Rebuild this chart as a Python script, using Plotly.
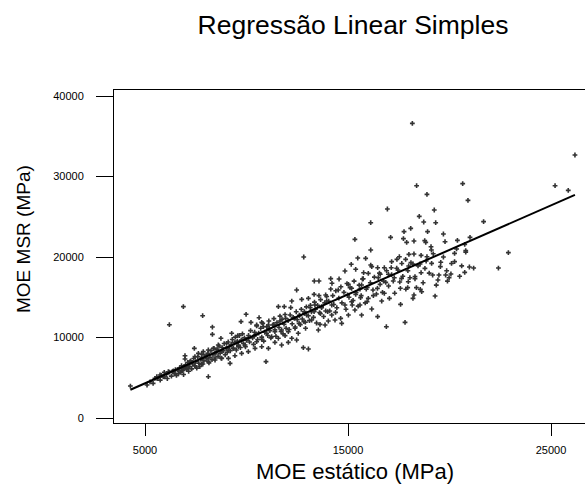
import numpy as np
import plotly.graph_objects as go

# ---- Data (MPa) ----
moe_estatico = [
    18170, 26180, 18380, 20650, 25200, 25850, 18890, 20910, 16940, 19250,
    18510, 16120, 18730, 19320, 21680, 18090, 17760, 18920, 19700, 17100,
    15340, 17730, 18250, 17890, 18780, 18830, 19780, 20390, 20750, 21010,
    19090, 19110, 16120, 20800, 22900, 12820, 15480, 15870, 17150, 17530,
    17410, 17840, 18000, 18250, 18890, 20250, 20250, 22410, 20980, 21190,
    20750, 15160, 16120, 16460, 16790, 16170, 17130, 17460, 17990, 18200,
    18550, 18790, 19120, 19570, 19860, 20070, 19430, 19810, 19980, 19480,
    19170, 14850, 15380, 15770, 15710, 16000, 16590, 16490, 16990, 17280,
    17640, 18050, 18300, 18600, 17970, 13340, 13570, 14150, 14560, 14210,
    15020, 15180, 15670, 15590, 15950, 16580, 16860, 17230, 17580, 17940,
    18370, 18560, 18630, 18250, 18200, 19290, 17590, 17040, 16660, 16790,
    16400, 16230, 16000, 15620, 15380, 14980, 15180, 14850, 15210, 15590,
    15940, 16170, 16460, 16890, 17810, 14520, 14150, 13900, 13570, 13330,
    13050, 12720, 12470, 12230, 13950, 14200, 13700, 13370, 13140, 12850,
    12620, 12960, 13330, 13640, 14000, 14390, 14640, 14690, 14360, 14030,
    13870, 13620, 14200, 15020, 15340, 15670, 11570, 11860, 12180, 6890,
    7840, 6200, 8320, 8320, 9980, 10620, 9730, 10220, 10500, 10750,
    11080, 11350, 11650, 11930, 12360, 12590, 12830, 13210, 13540, 12910,
    12390, 12060, 11730, 11400, 11120, 10830, 9270, 9570, 9760, 10090,
    10390, 10500, 10750, 10990, 11240, 11570, 11900, 12230, 12550, 12470,
    12060, 11730, 11400, 11080, 10750, 10420, 12800, 13050, 10960, 8740,
    9020, 8610, 8370, 8120, 7870, 7630, 7430, 7460, 6970, 6970,
    7220, 7790, 8040, 8450, 8780, 9110, 9350, 9600, 9930, 10090,
    9760, 9430, 9110, 8780, 8450, 8120, 7790, 7460, 7130, 6890,
    6640, 6400, 6150, 5950, 5740, 5580, 5490, 5900, 6480, 6810,
    7050, 8120, 9190, 4280,
    5100, 5250, 5400, 5600, 5750, 5800, 5950, 6050, 6100, 6200, 6300, 6350, 6450, 6500, 6550,
    6600, 6650, 6700, 6750, 6800, 6850, 6900, 6950, 7000, 7050, 7100, 7150, 7200, 7250,
    7300, 7350, 7400, 7450, 7500, 7550, 7600, 7650, 7700, 7750, 7800, 7850, 7900, 7950,
    8050, 8100, 8150, 8200, 8250, 8300, 8350, 8400, 8450, 8500, 8550, 8600, 8650, 8700,
    8750, 8800, 8850, 8900, 8950, 9000, 9050, 9100, 9150, 9200, 9250, 9300, 9350, 9400,
    9450, 9500, 9550, 9600, 9650, 9700, 9750, 9800, 9850, 9900, 9950, 10000,
    10100, 10150, 10200, 10300, 10350, 10400, 10450, 10500, 10550, 10600,
    10700, 10750, 10800, 10850, 10900, 11000, 11050, 11100, 11150, 11200,
    11300, 11350, 11400, 11450, 11500, 11600, 11650, 11700, 11750, 11800,
    11850, 11900, 11950,
    12050, 12100, 12150, 12250, 12300, 12400, 12450, 12500, 12600, 12650,
    12700, 12750, 12850, 12900, 12950, 13050, 13100, 13150, 13200, 13300,
    13350, 13400, 13450, 13500, 13600, 13650, 13700, 13800, 13850, 13900, 13950,
    14050, 14100, 14250, 14300, 14400, 14450, 14550, 14650, 14700, 14800,
    14900, 14950, 15050, 15100, 15250, 15300, 15400, 15500, 15550, 15650,
    15750, 15850, 15900,
    16100, 16250, 16300, 16450, 16550, 16700, 16750, 16900, 17000, 17150,
    17300, 17400, 17550, 17650, 17700, 17850, 17950,
    18100, 18300, 18450, 18600, 18700, 18850, 19000, 19200, 19350, 19550,
    19700, 19900, 20100, 20350, 20500, 20600, 20800,
]

moe_msr = [
    36600, 32670, 28860, 29110, 28860, 28280, 27780, 27040, 25960, 25840,
    25050, 24260, 24350, 24260, 24390, 23560, 23150, 23150, 22860, 22440,
    22190, 22280, 21990, 21820, 22030, 21820, 21900, 22070, 21570, 22440,
    21280, 20870, 20870, 20790, 20540, 20000, 19870, 19830, 19420, 20040,
    19710, 19710, 20330, 20370, 20040, 20450, 19420, 18630, 18760, 18630,
    18090, 19090, 19000, 18670, 18670, 18800, 18670, 18380, 18880, 19130,
    19130, 18590, 19210, 19340, 18300, 17890, 17140, 17760, 17430, 17760,
    17760, 18260, 18470, 18050, 17270, 17970, 17850, 17430, 17850, 17430,
    17350, 17430, 17560, 18050, 16930, 17020, 17020, 17310, 17270, 16730,
    16600, 16110, 16520, 16020, 16230, 16600, 16850, 17020, 16110, 16190,
    16190, 15980, 15690, 15280, 14860, 15150, 14120, 14860, 14530, 15490,
    15400, 15900, 14860, 14950, 15360, 15280, 14450, 14040, 14040, 14040,
    14450, 13540, 12590, 11340, 11880, 15900, 16020, 15280, 15200, 15360,
    14860, 14740, 15900, 14530, 14530, 14040, 13830, 14040, 13710, 13210,
    12790, 12790, 13210, 12960, 13210, 13120, 12380, 11760, 12170, 12050,
    11550, 11630, 12790, 12790, 13410, 12790, 13830, 13830, 13710, 13830,
    12710, 11590, 11300, 10390, 12880, 12460, 11970, 11880, 11550, 11880,
    11550, 11630, 12050, 12380, 12380, 11760, 11970, 12170, 10930, 11140,
    11140, 10720, 10930, 10720, 11140, 11340, 10520, 10230, 9690, 9900,
    10230, 9480, 9770, 10520, 10100, 9900, 10230, 9900, 10520, 9690,
    9400, 9070, 9400, 8650, 8860, 8650, 8740, 8570, 7000, 9900,
    9270, 9070, 8650, 8450, 8240, 8030, 8650, 7620, 7740, 7330,
    7000, 7410, 7820, 8030, 8240, 8450, 8650, 8860, 9070, 8240,
    8030, 7740, 7410, 7410, 7200, 7000, 6670, 6500, 6380, 6250,
    5960, 5840, 5750, 5670, 5340, 5130, 4930, 5130, 5550, 5840,
    6170, 5130, 6790, 3970,
    4100, 4500, 4300, 4900, 4700, 5300, 5100, 5400, 4900, 5700, 5200, 5800, 5500, 6000, 5300,
    6000, 5500, 6200, 5700, 6500, 5900, 5400, 6300, 6600, 6000, 6900, 5800, 6400, 7100,
    6100, 6700, 7400, 6500, 7000, 6200, 7600, 6800, 6400, 7300, 7900, 6700, 7100, 7700,
    7350, 8050, 6850, 7550, 8350, 7250, 7850, 8650, 7450, 8150, 8550, 7650, 8950, 8050,
    7450, 8750, 8350, 9250, 7850, 8650, 8150, 9450, 8850, 8350, 9150, 9750, 8650, 9350,
    10050, 8450, 9550, 9050, 10250, 8750, 9650, 10450, 9250, 9950, 8850, 9650,
    10250, 9450, 10850, 9950, 9150, 10650, 10350, 11450, 9750, 10550,
    11150, 10050, 11750, 9550, 10650, 11350, 10250, 12050, 10850, 9950,
    11550, 12350, 10950, 10150, 11850, 11250, 12650, 10750, 12250, 10450,
    11650, 12850, 11150,
    12100, 11000, 12800, 11700, 12500, 11300, 13200, 12200, 12700, 11600,
    13500, 12300, 13000, 11900, 13800, 12700, 12100, 14000, 13200, 12500,
    14400, 13500, 11800, 14000, 13100, 14700, 13700, 12600, 14300, 13300, 15100,
    14500, 13300, 15200, 14100, 15800, 13700, 14900, 16300, 14300, 15600,
    13500, 16700, 15000, 16200, 14600, 17000, 15600, 13900, 16500, 15200,
    17300, 14300, 16000,
    16800, 15200, 17500, 16100, 18000, 15600, 17000, 18300, 16400, 17800,
    15500, 18600, 16900, 19200, 17600, 16000, 18300,
    19300, 17300, 18900, 20200, 16800, 19500, 18000, 20400, 16500, 18800,
    20000, 17000, 19200, 21000, 17600, 18900, 20600,
]

x_ticks = [5000, 15000, 25000]
y_ticks = [0, 10000, 20000, 30000, 40000]

title_text = "Regressão Linear Simples"
x_title = "MOE estático (MPa)"
y_title = "MOE MSR (MPa)"

assert len(moe_estatico) == len(moe_msr)

x = np.array(moe_estatico, dtype=float)
y = np.array(moe_msr, dtype=float)
slope, intercept = np.polyfit(x, y, 1)
x_fit = np.array([x.min(), x.max()])
y_fit = intercept + slope * x_fit

FONT = "Liberation Sans, Arial, sans-serif"

fig = go.Figure()
fig.add_trace(go.Scatter(
    x=x, y=y, mode="markers",
    marker=dict(symbol="cross", size=4, color="#333333", line=dict(width=0)),
    hoverinfo="skip", showlegend=False,
))
fig.add_trace(go.Scatter(
    x=x_fit, y=y_fit, mode="lines",
    line=dict(color="black", width=2),
    hoverinfo="skip", showlegend=False,
))

fig.update_layout(
    width=585, height=485,
    margin=dict(l=114, r=0, t=90, b=62),
    paper_bgcolor="white", plot_bgcolor="white",
    font=dict(family=FONT, color="black"),
    title=dict(text=title_text, xref="container", yref="container",
               x=353 / 585, xanchor="center", y=1 - 25 / 485, yanchor="middle",
               font=dict(size=26.5, family=FONT, color="black")),
    xaxis=dict(range=[3473, 26675], tickvals=x_ticks, ticktext=[str(v) for v in x_ticks],
               ticks="outside", ticklen=12, tickwidth=1, tickcolor="black",
               showline=True, linecolor="black", linewidth=1, mirror=True,
               showgrid=False, zeroline=False,
               tickfont=dict(size=11, family=FONT, color="black"), ticklabelstandoff=5),
    yaxis=dict(range=[-621, 40745], tickvals=y_ticks, ticktext=[str(v) for v in y_ticks],
               ticks="outside", ticklen=17, tickwidth=1, tickcolor="black",
               showline=True, linecolor="black", linewidth=1, mirror=False,
               showgrid=False, zeroline=False,
               tickfont=dict(size=11, family=FONT, color="black"), ticklabelstandoff=10),
    annotations=[
        dict(text=x_title, xref="paper", yref="paper", x=(355 - 114) / 471, y=(423 - 472) / 333,
             xanchor="center", yanchor="middle", showarrow=False,
             font=dict(size=22, family=FONT, color="black")),
        dict(text=y_title, xref="paper", yref="paper", x=(23 - 114) / 471, y=(423 - 239) / 333,
             xanchor="center", yanchor="middle", showarrow=False, textangle=-90,
             font=dict(size=19, family=FONT, color="black")),
    ],
)

fig.write_html("out.html")
